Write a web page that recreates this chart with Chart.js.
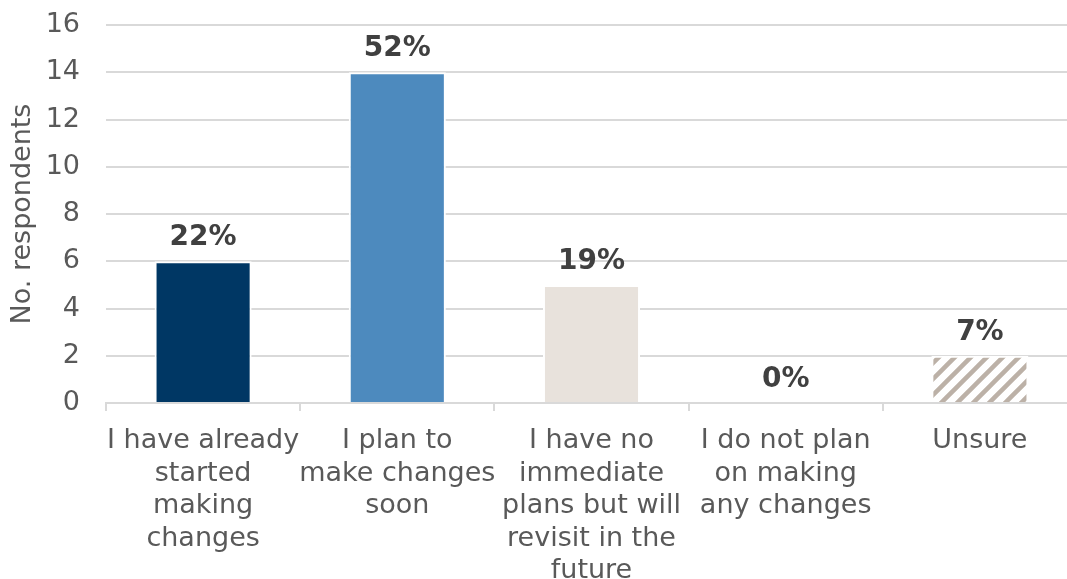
<!DOCTYPE html>
<html>
<head>
<meta charset="utf-8">
<script src="https://cdn.jsdelivr.net/npm/chart.js@4"></script>
<style>
  html, body { margin: 0; padding: 0; background: #fff; overflow: hidden; }
  #wrap { width: 1077px; height: 586px; }
</style>
</head>
<body>
<div id="wrap"><canvas id="barChart"></canvas></div>
<script>
// data
var categories = [
    ["I have already", "started", "making", "changes"],
    ["I plan to", "make changes", "soon"],
    ["I have no", "immediate", "plans but will", "revisit in the", "future"],
    ["I do not plan", "on making", "any changes"],
    ["Unsure"]
];
var respondents = [6, 14, 5, 0, 2];
var percentLabels = ["22%", "52%", "19%", "0%", "7%"];
var yTicks = [0, 2, 4, 6, 8, 10, 12, 14, 16];

function hatch() {
    var s = 16;
    var c = document.createElement('canvas');
    c.width = s; c.height = s;
    var g = c.getContext('2d');
    g.fillStyle = '#ffffff';
    g.fillRect(0, 0, s, s);
    g.strokeStyle = '#bcb1a7';
    g.lineWidth = 4.5;
    g.beginPath();
    for (var k = -1; k <= 1; k++) {
        g.moveTo(k * s - 2, s + 2);
        g.lineTo(k * s + s + 2, -2);
    }
    g.stroke();
    return g.createPattern(c, 'repeat');
}

var valueLabels = {
    id: 'valueLabels',
    afterDatasetsDraw: function(chart) {
        var ctx = chart.ctx;
        var meta = chart.getDatasetMeta(0);
        ctx.save();
        ctx.font = 'bold 28px "DejaVu Sans"';
        ctx.fillStyle = '#404040';
        ctx.textAlign = 'center';
        ctx.textBaseline = 'alphabetic';
        meta.data.forEach(function(bar, i) {
            ctx.fillText(percentLabels[i], bar.x, bar.y - 16);
        });
        ctx.restore();
    }
};

var ctx = document.getElementById('barChart').getContext('2d');
new Chart(ctx, {
    type: 'bar',
    data: {
        labels: categories,
        datasets: [{
            data: respondents,
            backgroundColor: ['#003764', '#4d8abe', '#e8e2dc', '#c0c0c0', hatch()],
            borderColor: '#ffffff',
            borderWidth: 2,
            barPercentage: 0.5,
            categoryPercentage: 1
        }]
    },
    options: {
        responsive: true,
        maintainAspectRatio: false,
        animation: false,
        layout: { padding: 0 },
        plugins: {
            legend: { display: false },
            tooltip: { enabled: false }
        },
        scales: {
            x: {
                afterFit: function(axis) {
                    axis.height = 183;
                    axis.paddingLeft = 0;
                    axis.paddingRight = 0;
                },
                grid: {
                    display: true,
                    drawOnChartArea: false,
                    color: '#d9d9d9',
                    lineWidth: 2,
                    tickLength: 8,
                    offset: true
                },
                border: { color: '#d9d9d9', width: 2 },
                ticks: {
                    color: '#595959',
                    font: { family: 'DejaVu Sans', size: 27, lineHeight: 1.205 },
                    maxRotation: 0,
                    autoSkip: false,
                    padding: 14
                }
            },
            y: {
                min: 0,
                max: 16,
                afterBuildTicks: function(axis) {
                    axis.ticks = yTicks.map(function(v) { return { value: v }; });
                },
                afterFit: function(axis) {
                    axis.width = 106;
                    axis.paddingTop = 25;
                    axis.paddingBottom = 0;
                },
                grid: { color: '#d9d9d9', lineWidth: 2, drawTicks: false },
                border: { display: false },
                ticks: {
                    color: '#595959',
                    font: { family: 'DejaVu Sans', size: 27 },
                    padding: 26
                },
                title: {
                    display: true,
                    text: 'No. respondents',
                    color: '#595959',
                    font: { family: 'DejaVu Sans', size: 27 },
                    padding: { top: 7, bottom: 7 }
                }
            }
        }
    },
    plugins: [valueLabels]
});
</script>
</body>
</html>
